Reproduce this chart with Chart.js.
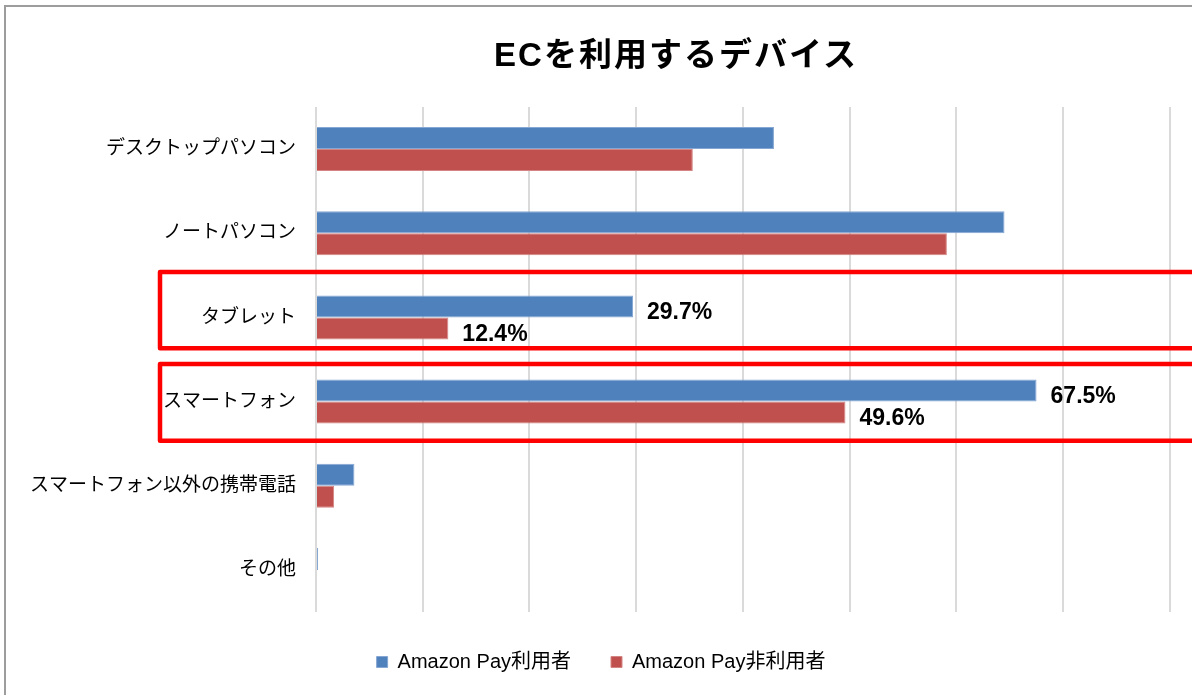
<!DOCTYPE html>
<html lang="ja">
<head>
<meta charset="utf-8">
<title>ECを利用するデバイス</title>
<script src="https://cdn.jsdelivr.net/npm/chart.js@4.4.1/dist/chart.umd.min.js"></script>
<style>
  html, body { margin: 0; padding: 0; overflow: hidden; background: #fff; width: 1192px; height: 695px; }
  #marco { position: absolute; left: 4px; top: 5px; width: 2000px; height: 2000px;
           border-left: 2px solid #9d9d9d; border-top: 2px solid #9d9d9d; }
  #titulo { position: absolute; left: 0; top: 38px; width: 1352px; text-align: center;
            font: bold 33px "Liberation Sans", "Noto Sans CJK JP", sans-serif; letter-spacing: 2px;
            line-height: 34px; color: #000; }
  #grafico { position: absolute; left: 0; top: 0; }
</style>
</head>
<body>
<div id="marco"></div>
<canvas id="grafico" width="1212" height="695"></canvas>
<div id="titulo">ECを利用するデバイス</div>
<script>
// datos (%)
const categorias = ['デスクトップパソコン', 'ノートパソコン', 'タブレット', 'スマートフォン', 'スマートフォン以外の携帯電話', 'その他'];
const usuarios = [42.9, 64.5, 29.7, 67.5, 3.6, 0.2];
const noUsuarios = [35.3, 59.1, 12.4, 49.6, 1.7, 0];
const serieNombres = ['Amazon Pay利用者', 'Amazon Pay非利用者'];
// sólo estas categorías llevan etiqueta y recuadro rojo
const indicesDestacados = [2, 3];

const fuente = '"Liberation Sans", "Noto Sans CJK JP", sans-serif';

// etiquetas de valor al final de la barra
const etiquetasPlugin = {
  id: 'etiquetas',
  afterDatasetsDraw(chart) {
    const c = chart.ctx;
    c.save();
    c.font = 'bold 23px ' + fuente;
    c.fillStyle = '#000';
    c.textBaseline = 'middle';
    c.textAlign = 'left';
    chart.data.datasets.forEach((ds, i) => {
      const meta = chart.getDatasetMeta(i);
      indicesDestacados.forEach(j => {
        const barra = meta.data[j];
        c.fillText(ds.data[j].toFixed(1) + '%', barra.x + 14, barra.y + 6);
      });
    });
    c.restore();
  }
};

// recuadros rojos alrededor de tabletas y smartphones
const recuadros = [
  { indice: 2, desde: -0.54, hasta: 0.366 },
  { indice: 3, desde: -0.447, hasta: 0.464 }
];
const recuadrosPlugin = {
  id: 'recuadros',
  afterDraw(chart) {
    const c = chart.ctx;
    const y = chart.scales.y;
    c.save();
    c.strokeStyle = '#ff0000';
    c.lineWidth = 4.5;
    c.lineJoin = 'round';
    recuadros.forEach(r => {
      const arriba = y.getPixelForValue(r.indice + r.desde);
      const abajo = y.getPixelForValue(r.indice + r.hasta);
      c.strokeRect(160, arriba, 1100, abajo - arriba);
    });
    c.restore();
  }
};

const ctx = document.getElementById('grafico').getContext('2d');

const grafico = new Chart(ctx, {
  type: 'bar',
  data: {
    labels: categorias,
    datasets: [{
      label: serieNombres[0],
      data: usuarios,
      backgroundColor: '#4F81BD',
      borderColor: '#86a7d3',
      borderWidth: 1
    }, {
      label: serieNombres[1],
      data: noUsuarios,
      backgroundColor: '#C0504D',
      borderColor: '#d48583',
      borderWidth: 1
    }]
  },
  options: {
    indexAxis: 'y',
    responsive: false,
    animation: false,
    categoryPercentage: 0.523,
    barPercentage: 1,
    layout: { padding: { top: 107, right: 10, bottom: 13, left: 0 } },
    scales: {
      x: {
        min: 0,
        max: 83,
        ticks: { display: false, stepSize: 10 },
        grid: { color: '#dadada', lineWidth: 2, drawTicks: false },
        border: { display: false }
      },
      y: {
        ticks: { color: '#000', font: { family: fuente, size: 19 }, padding: 20 },
        grid: { display: false, drawTicks: false },
        border: { display: false },
        afterFit(scale) { scale.width = 316; }
      }
    },
    plugins: {
      title: { display: false },
      tooltip: { enabled: false },
      legend: {
        position: 'bottom',
        labels: {
          color: '#000',
          font: { family: fuente, size: 20 },
          boxWidth: 11,
          boxHeight: 11,
          padding: 40
        }
      }
    }
  },
  plugins: [etiquetasPlugin, recuadrosPlugin]
});
</script>
</body>
</html>
